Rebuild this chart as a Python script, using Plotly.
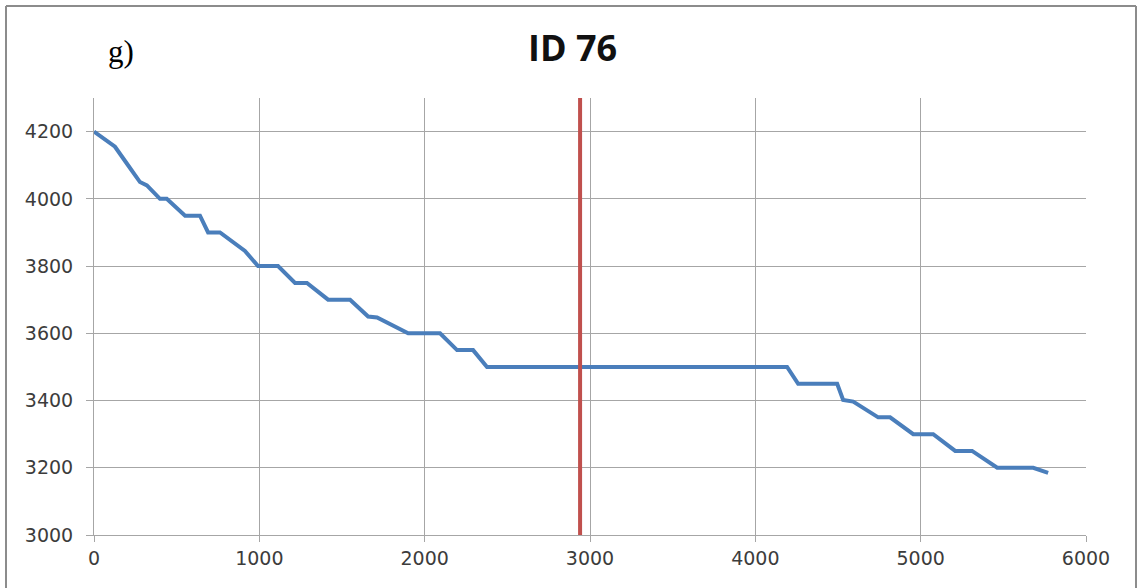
import plotly.graph_objects as go

# Data
x_vals = [0, 127, 206, 278, 320, 399, 440, 551, 641, 690, 762, 913, 992, 1113,
          1216, 1288, 1416, 1549, 1658, 1712, 1900, 2093, 2196, 2293, 2377,
          4192, 4259, 4495, 4531, 4592, 4743, 4815, 4955, 5076, 5209, 5311,
          5463, 5681, 5771]
y_vals = [4200, 4155, 4100, 4050, 4040, 4000, 4000, 3950, 3950, 3900, 3900,
          3845, 3800, 3800, 3750, 3750, 3700, 3700, 3650, 3647, 3600, 3600,
          3550, 3550, 3500, 3500, 3450, 3450, 3402, 3397, 3350, 3350, 3300,
          3300, 3250, 3250, 3200, 3200, 3185]
marker_x = [2940, 2940]
marker_y = [3000, 4300]
x_ticks = [0, 1000, 2000, 3000, 4000, 5000, 6000]
y_ticks = [3000, 3200, 3400, 3600, 3800, 4000, 4200]
title_text = "ID 76"
panel_label = "g)"

fig = go.Figure()
fig.add_trace(go.Scatter(x=x_vals, y=y_vals, mode="lines",
                         line=dict(color="#4A7EBB", width=4),
                         showlegend=False, hoverinfo="skip"))
fig.add_trace(go.Scatter(x=marker_x, y=marker_y, mode="lines",
                         line=dict(color="#C0504D", width=4),
                         showlegend=False, hoverinfo="skip"))

grid = "#A6A6A6"
tickfont = dict(family="DejaVu Sans", size=19, color="#3c3c3c")
fig.update_xaxes(range=[0, 6000], tickvals=x_ticks, showgrid=True,
                 gridcolor=grid, gridwidth=1, showline=True, linecolor=grid,
                 linewidth=1, ticks="outside", ticklen=6, tickcolor=grid,
                 tickfont=tickfont, zeroline=False, fixedrange=True)
fig.update_yaxes(range=[3000, 4300], tickvals=y_ticks, showgrid=True,
                 gridcolor=grid, gridwidth=1, showline=True, linecolor=grid,
                 linewidth=1, ticks="outside", ticklen=7, tickcolor=grid,
                 tickfont=tickfont, zeroline=False, fixedrange=True,
                 ticklabelstandoff=9)

W, H = 1138, 588
L, R, T, B = 94, 52, 98, 53
pw, ph = W - L - R, H - T - B

def px(xp):
    return (xp - L) / pw

def py(yp):
    return (H - B - yp) / ph

border = "#8C8C8C"
shapes = [
    dict(type="line", xref="paper", yref="paper", x0=px(6), x1=px(6), y0=py(6), y1=py(600),
         line=dict(color=border, width=2)),
    dict(type="line", xref="paper", yref="paper", x0=px(6), x1=px(1136), y0=py(6), y1=py(6),
         line=dict(color=border, width=2)),
    dict(type="line", xref="paper", yref="paper", x0=px(1136), x1=px(1136), y0=py(6), y1=py(600),
         line=dict(color=border, width=2)),
]

annotations = [
    dict(text="<b>" + title_text + "</b>", xref="paper", yref="paper",
         x=px(572), y=py(48), xanchor="center", yanchor="middle", showarrow=False,
         font=dict(family="Open Sans", size=36, color="#111111")),
    dict(text=panel_label, xref="paper", yref="paper",
         x=px(121), y=py(51), xanchor="center", yanchor="middle", showarrow=False,
         font=dict(family="Liberation Serif", size=31, color="#000000")),
]

fig.update_layout(width=W, height=H, margin=dict(l=L, r=R, t=T, b=B),
                  paper_bgcolor="white", plot_bgcolor="white",
                  shapes=shapes, annotations=annotations, showlegend=False)

fig.write_html("out.html", config={"displayModeBar": False},
               post_script="document.body.style.margin='0';document.body.style.overflow='hidden';")
